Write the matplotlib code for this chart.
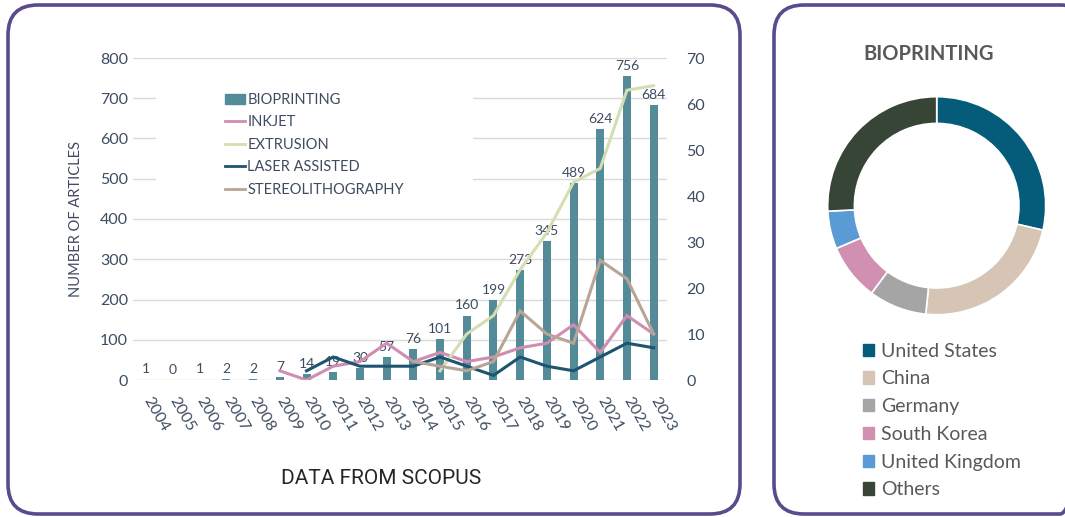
import numpy as np
import matplotlib
matplotlib.use("Agg")
import matplotlib.pyplot as plt
from matplotlib.patches import FancyBboxPatch, Rectangle, Patch
from matplotlib.lines import Line2D

plt.rcParams["font.family"] = ["Lato", "DejaVu Sans"]

YEARS = [str(y) for y in range(2004, 2024)]
BIOPRINTING = [1, 0, 1, 2, 2, 7, 14, 19, 30, 57, 76, 101, 160, 199, 273, 345, 489, 624, 756, 684]
# secondary axis series (None = no data yet)
INKJET = [None] * 5 + [2, 0, 3, 4, 8, 4, 6, 4, 5, 7, 8, 12, 6, 14, 10]
EXTRUSION = [None] * 11 + [2, 10, 14, 24, 32, 43, 46, 63, 64]
LASER = [None] * 6 + [2, 5, 3, 3, 3, 5, 3, 1, 5, 3, 2, 5, 8, 7]
STEREO = [None] * 10 + [4, 3, 2, 4, 15, 10, 8, 26, 22, 10]

COUNTRIES = ["United States", "China", "Germany", "South Korea", "United Kingdom", "Others"]
SHARES = [28.6, 23.0, 8.6, 8.4, 5.6, 25.8]
PIE_COLORS = ["#055C7A", "#D6C4B4", "#A5A5A5", "#D18FB1", "#5B9BD5", "#364535"]

TXT = "#3E4C60"
W, H = 1065, 517

fig = plt.figure(figsize=(W / 100, H / 100), dpi=100)

# background axes in pixel units for the two rounded panels
bg = fig.add_axes([0, 0, 1, 1], zorder=-1)
bg.set_xlim(0, W)
bg.set_ylim(H, 0)
bg.axis("off")
for x0, x1 in [(8, 740), (774, 1090)]:
    bg.add_patch(FancyBboxPatch((x0, 5), x1 - x0, 509,
                                boxstyle="round,pad=0,rounding_size=30",
                                fill=False, ec="#5B4A8C", lw=2.6))

# ---- main chart
ax = fig.add_axes([133 / W, 1 - 380 / H, 534 / W, 322 / H])
x = np.arange(len(YEARS))
ax.bar(x, BIOPRINTING, width=0.3, color="#538B98", zorder=2)
for xi, v in zip(x, BIOPRINTING):
    ax.annotate(str(v), (xi, v), xytext=(0, 3), textcoords="offset points",
                ha="center", va="bottom", fontsize=10, color=TXT)
ax.set_ylim(0, 800)
ax.set_xlim(-0.5, len(YEARS) - 0.5)
ax.set_yticks(range(0, 801, 100))
ax.yaxis.grid(True, color="#D9D9D9", lw=1)
ax.set_axisbelow(True)
for s in ax.spines.values():
    s.set_visible(False)
ax.tick_params(axis="both", length=0, colors=TXT, labelsize=11.5)
ax.set_xticks(x)
ax.set_xticklabels(YEARS, rotation=-60, ha="left", va="center",
                   rotation_mode="anchor")
ax.tick_params(axis="x", pad=13)
ax.set_ylabel("NUMBER OF ARTICLES", fontsize=10.5, color=TXT, labelpad=12)

# white area behind the legend hides the gridlines there
ax.add_patch(Rectangle((156 / W, 1 - 200 / H), (473 - 156) / W, 130 / H,
                       transform=fig.transFigure, fc="white", ec="none", zorder=1))

ax2 = ax.twinx()
ax2.set_ylim(0, 70)
ax2.set_yticks(range(0, 71, 10))
for s in ax2.spines.values():
    s.set_visible(False)
ax2.tick_params(axis="y", length=0, colors=TXT, labelsize=11.5, pad=14)

series = [("INKJET", INKJET, "#D08DB0"),
          ("EXTRUSION", EXTRUSION, "#D5DEB2"),
          ("LASER ASSISTED", LASER, "#1D5470"),
          ("STEREOLITHOGRAPHY", STEREO, "#B8A595")]
for name, vals, col in series:
    arr = np.array([np.nan if v is None else v for v in vals], dtype=float)
    ax2.plot(x, arr, color=col, lw=2.2, solid_joinstyle="miter")

handles = [Patch(color="#538B98")] + [Line2D([], [], color=c, lw=2) for _, _, c in series]
labels = ["BIOPRINTING"] + [n for n, _, _ in series]
fig.legend(handles, labels, loc="upper left",
           bbox_to_anchor=(219 / W, 1 - 87 / H), frameon=False,
           fontsize=10.5, labelcolor=TXT, handlelength=1.4, handletextpad=0.15,
           labelspacing=0.58, borderaxespad=0)

fig.text(381 / W, 1 - 479 / H, "DATA FROM SCOPUS", ha="center", va="center",
         fontsize=15, color="#262626", family=["Roboto", "DejaVu Sans"])

# ---- donut
R = 109
pax = fig.add_axes([(936.7 - R) / W, 1 - (205.7 + R) / H, 2 * R / W, 2 * R / H])
pax.pie(SHARES, colors=PIE_COLORS, startangle=90, counterclock=False,
        wedgeprops=dict(width=0.245, edgecolor="white", linewidth=1.2))
pax.set_xlim(-1, 1)
pax.set_ylim(-1, 1)
pax.set_aspect("equal")
pax.axis("off")

fig.text(929 / W, 1 - 54 / H, "BIOPRINTING", ha="center", va="center",
         fontsize=14.5, fontweight="bold", color="#595959")

fig.legend([Patch(color=c) for c in PIE_COLORS], COUNTRIES, loc="upper left",
           bbox_to_anchor=(855 / W, 1 - 335 / H), frameon=False,
           fontsize=14, labelcolor="#595959", handlelength=0.6,
           handleheight=0.6, handletextpad=0.35, labelspacing=0.55,
           borderaxespad=0)

fig.savefig("out.png", dpi=100)
